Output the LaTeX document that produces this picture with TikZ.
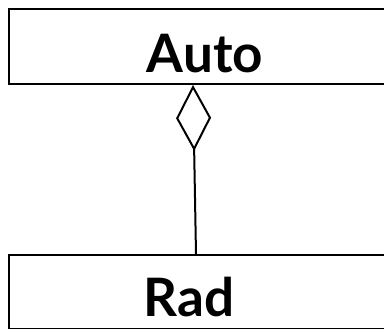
\documentclass[tikz,border=0pt]{standalone}
\usepackage{fontspec}
\setmainfont{Lato}
\usetikzlibrary{positioning, arrows.meta}

\begin{document}
\begin{tikzpicture}[
    x=1pt, y=1pt,
    box/.style={
        draw,
        line width=2pt,
        minimum width=412pt,
        minimum height=75pt,
        anchor=north west,
        inner sep=0pt
    },
    classname/.style={
        anchor=base,
        inner sep=0pt,
        font=\fontsize{53}{53}\selectfont\bfseries
    },
    aggregation/.style={-{Diamond[open, length=66pt, width=35pt]}, line width=2pt}
]
\useasboundingbox (0,0) rectangle (384,329);

\node[box] (auto) at (8,321) {};
\node[box, minimum height=74pt] (rad) at (8,75) {};

\node[classname] (autoname) at ([xshift=197pt, yshift=-65pt]auto.north west) {Auto};
\node[classname] (radname) at ([xshift=181pt, yshift=-63pt]rad.north west) {Rad};

\draw[aggregation] ([xshift=188pt]rad.north west) -- ([xshift=185pt]auto.south west);

\end{tikzpicture}
\end{document}
